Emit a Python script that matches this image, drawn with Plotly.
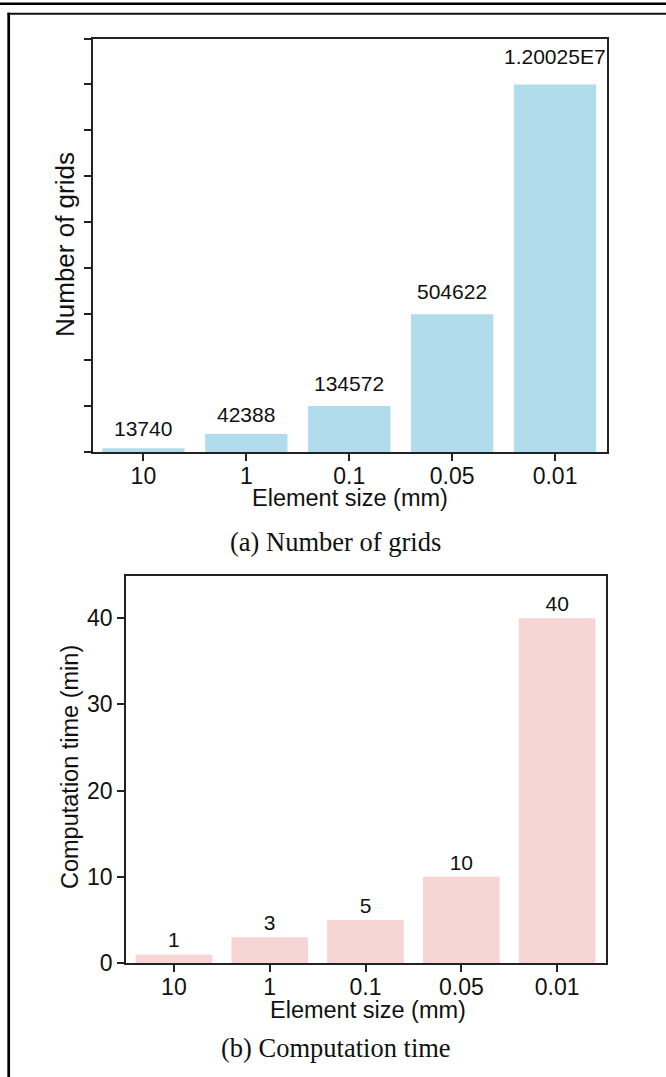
import plotly.graph_objects as go

W, H = 666, 1077

# ---- data ----
categories = ["10", "1", "0.1", "0.05", "0.01"]
# panel (a): bar heights as drawn (axis without numeric labels), and their value labels
grid_bar_heights = [0.08, 0.39, 1.0, 3.0, 8.0]
grid_labels = ["13740", "42388", "134572", "504622", "1.20025E7"]
# panel (b): computation time in minutes
time_values = [1, 3, 5, 10, 40]
time_labels = ["1", "3", "5", "10", "40"]
time_ticks = [0, 10, 20, 30, 40]

# style: vertical gap (px) between each top-panel bar and its value label
grid_label_shift = [6, 6, 9, 9, 14]

BLUE = "#B0DCEC"
PINK = "#F8D5D5"
AX = "#222222"
SANS = "Liberation Sans, Arial, sans-serif"
SERIF = "Liberation Serif, Times New Roman, serif"


def px_x(p):
    return p / W


def px_y(p):
    return 1 - p / H


fig = go.Figure()

fig.add_trace(go.Bar(
    x=categories, y=grid_bar_heights,
    marker=dict(color=BLUE, line=dict(width=0)), width=0.8,
    xaxis="x", yaxis="y", showlegend=False, hoverinfo="skip"))

fig.add_trace(go.Bar(
    x=categories, y=time_values, text=time_labels, textposition="outside",
    constraintext="none",
    textfont=dict(family=SANS, size=21, color="#111"), cliponaxis=False,
    marker=dict(color=PINK, line=dict(width=0)), width=0.8,
    xaxis="x2", yaxis="y2", showlegend=False, hoverinfo="skip"))

axcommon = dict(showline=True, linecolor=AX, linewidth=1.6, mirror=True,
                ticks="outside", tickcolor=AX, tickwidth=1.6, ticklen=7,
                showgrid=False, zeroline=False, automargin=False,
                tickfont=dict(family=SANS, size=23, color="#111"))

fig.update_layout(
    width=W, height=H, margin=dict(l=0, r=0, t=0, b=0, pad=0, autoexpand=False),
    paper_bgcolor="white", plot_bgcolor="white",
    xaxis=dict(domain=[px_x(93), px_x(607)], anchor="y", ticklabelstandoff=-4,
               range=[-0.49, 4.505], type="category", **axcommon),
    yaxis=dict(domain=[px_y(452), px_y(38.5)], anchor="x",
               range=[0, 9], dtick=1, tick0=0, showticklabels=False, **axcommon),
    xaxis2=dict(domain=[px_x(126), px_x(606)], anchor="y2", ticklabelstandoff=-4,
                range=[-0.5, 4.51], type="category", **axcommon),
    yaxis2=dict(domain=[px_y(963), px_y(576)], anchor="x2",
                range=[0, 44.9], tickvals=time_ticks, **axcommon),
)

annos = [
    dict(text="Number of grids", x=px_x(65), y=px_y(245), textangle=-90,
         font=dict(family=SANS, size=26, color="#111")),
    dict(text="Element size (mm)", x=px_x(350), y=px_y(498),
         font=dict(family=SANS, size=23.5, color="#111")),
    dict(text="(a) Number of grids", x=px_x(336), y=px_y(542),
         font=dict(family=SERIF, size=26.5, color="#111")),
    dict(text="Computation time (min)", x=px_x(70), y=px_y(767), textangle=-90,
         font=dict(family=SANS, size=23.5, color="#111")),
    dict(text="Element size (mm)", x=px_x(368), y=px_y(1010),
         font=dict(family=SANS, size=23.5, color="#111")),
    dict(text="(b) Computation time", x=px_x(336), y=px_y(1048),
         font=dict(family=SERIF, size=26.5, color="#111")),
]
for a in annos:
    a.update(xref="paper", yref="paper", showarrow=False,
             xanchor="center", yanchor="middle")

# value labels of panel (a), anchored on the bars' data values (category index on x)
for i, (h, lab, sh) in enumerate(zip(grid_bar_heights, grid_labels, grid_label_shift)):
    annos.append(dict(text=lab, x=i, y=h, xref="x", yref="y", showarrow=False,
                      xanchor="center", yanchor="bottom", yshift=sh,
                      font=dict(family=SANS, size=21, color="#111")))
fig.update_layout(annotations=annos)

# page frame lines
shapes = [
    dict(type="line", xref="paper", yref="paper", x0=0, x1=1, y0=px_y(3.7), y1=px_y(3.7),
         line=dict(color="black", width=2.5)),
    dict(type="line", xref="paper", yref="paper", x0=px_x(7.5), x1=1, y0=px_y(13.7), y1=px_y(13.7),
         line=dict(color="#111", width=2)),
    dict(type="line", xref="paper", yref="paper", x0=px_x(8.7), x1=px_x(8.7), y0=px_y(12.7), y1=0,
         line=dict(color="black", width=2.7)),
]
fig.update_layout(shapes=shapes)

fig.write_html("out.html")
